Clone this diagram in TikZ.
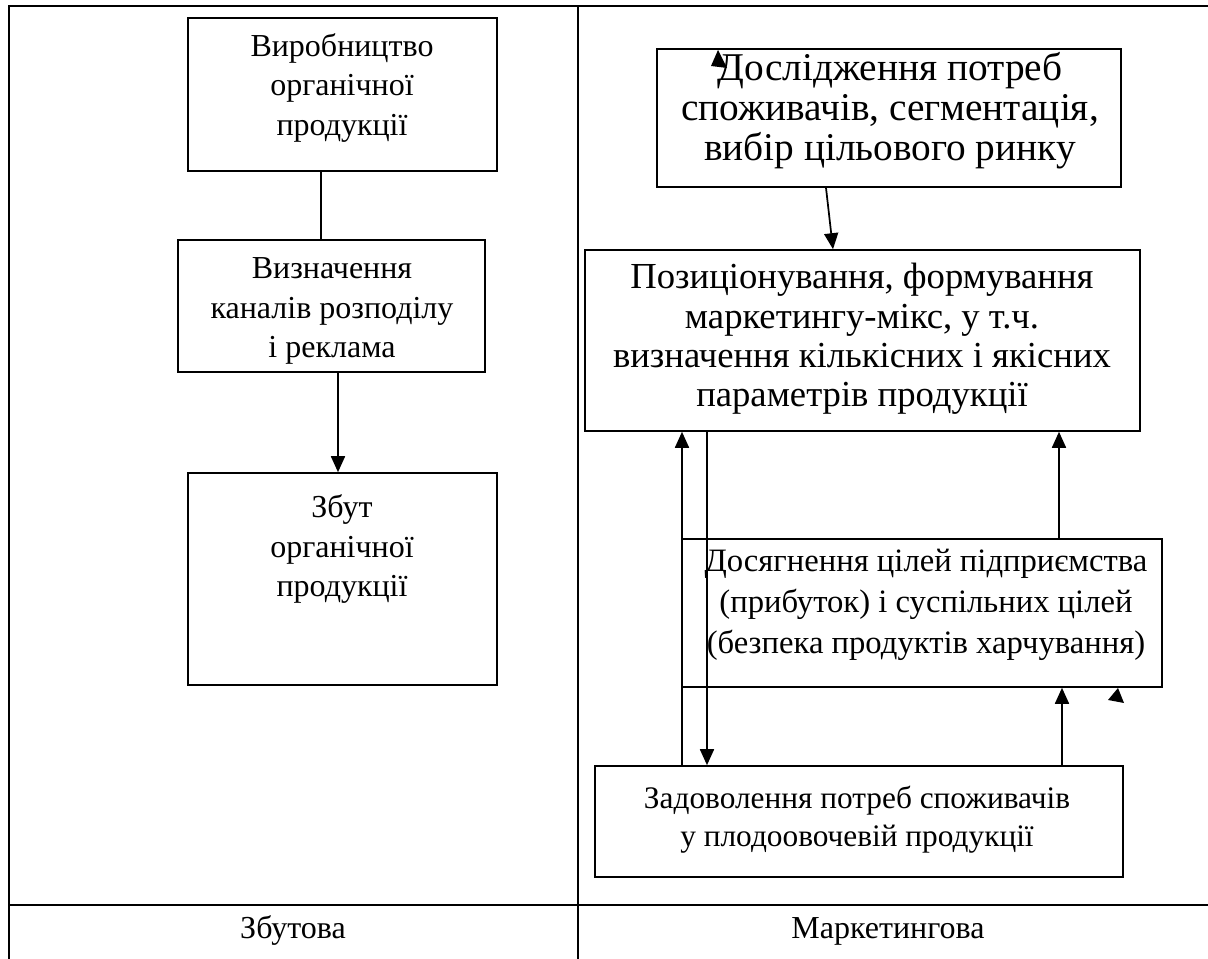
\documentclass[tikz,border=0pt]{standalone}
\usepackage{fontspec}
\setmainfont{Liberation Serif}
\usetikzlibrary{fit,arrows.meta}
\begin{document}
\begin{tikzpicture}[x=0.75pt,y=-0.75pt,
  tbl/.style={line width=1.6pt},
  box/.style={draw,line width=1.2pt,inner sep=0pt},
  txt/.style={align=center,inner sep=0pt,font=\fontsize{24pt}{29.5pt}\selectfont},
  con/.style={line width=1.3pt},
  arr/.style={con,-{Triangle[length=12pt,width=10.5pt]}}]
\useasboundingbox (0,0) rectangle (1208,959);
% table
\draw[tbl] (9,965) -- (9,6) -- (1215,6);
\draw[tbl] (578,6) -- (578,965);
\draw[tbl] (9,905) -- (1215,905);
\node[txt,anchor=base] (lab1) at (293,938) {Збутова};
\node[txt,anchor=base] (lab2) at (888,938) {Маркетингова};
% left boxes
\node[box,fit={(188,18) (497,171)}] (b1) {};
\node[txt] (t1) at (342,88) {Виробництво\\органічної\\продукції};
\node[box,fit={(178,240) (485,372)}] (b2) {};
\node[txt] (t2) at (332,311) {Визначення\\каналів розподілу\\і реклама};
\node[box,fit={(188,473) (497,685)}] (b3) {};
\node[txt] (t3) at (342,549) {Збут\\органічної\\продукції};
% right boxes
\node[box,fit={(657,49) (1121,187)}] (r1) {};
\node[txt,font=\fontsize{29.5pt}{30pt}\selectfont] (tr1) at (890,111) {Дослідження потреб\\споживачів, сегментація,\\вибір цільового ринку};
\node[box,fit={(585,250) (1140,431)}] (r2) {};
\node[txt,font=\fontsize{27.5pt}{29.5pt}\selectfont] (tr2) at (862,339) {Позиціонування, формування\\маркетингу-мікс, у т.ч.\\визначення кількісних і якісних\\параметрів продукції};
\node[box,fit={(682,539) (1162,687)}] (r3) {};
\node[txt,font=\fontsize{24.5pt}{30.5pt}\selectfont] (tr3) at (926,605) {Досягнення цілей підприємства\\(прибуток) і суспільних цілей\\(безпека продуктів харчування)};
\node[box,fit={(595,766) (1123,877)}] (r4) {};
\node[txt,font=\fontsize{23.5pt}{28.5pt}\selectfont] (tr4) at (857,820) {Задоволення потреб споживачів\\у плодоовочевій продукції};
% x positions of connectors
\coordinate (x1) at (321,0);
\coordinate (x2) at (338,0);
\coordinate (x3) at (826,0);
\coordinate (x4) at (833,0);
\coordinate (x5) at (682,0);
\coordinate (x6) at (707,0);
\coordinate (x7) at (1059,0);
\coordinate (x8) at (1062,0);
% connectors
\draw[con] (b1.south -| x1) -- (b2.north -| x1);
\draw[arr] (b2.south -| x2) -- (b3.north -| x2);
\draw[arr] (r1.south -| x3) -- (r2.north -| x4);
\draw[arr] (r4.north -| x5) -- (r2.south -| x5);
\draw[arr] (r2.south -| x6) -- (r4.north -| x6);
\draw[arr] (r3.north -| x7) -- (r2.south -| x7);
\draw[arr] (r4.north -| x8) -- (r3.south -| x8);
% stray arrowheads
\fill (711,66) -- (718,50) -- (727,68) -- cycle;
\fill (1108,700) -- (1118,688) -- (1124,703) -- cycle;
\end{tikzpicture}
\end{document}
